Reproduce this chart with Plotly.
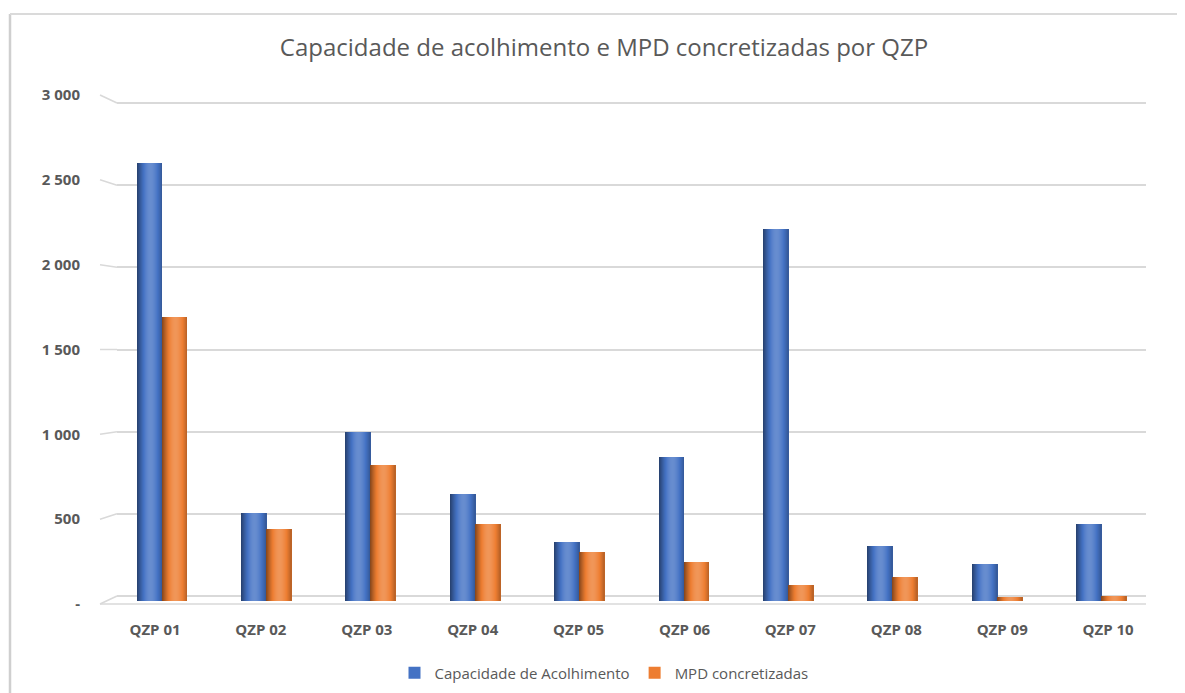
import math
import plotly.graph_objects as go

categories = ["QZP 01", "QZP 02", "QZP 03", "QZP 04", "QZP 05",
              "QZP 06", "QZP 07", "QZP 08", "QZP 09", "QZP 10"]
capacidade = [2615, 525, 1010, 640, 350, 860, 2220, 330, 220, 460]
mpd = [1695, 430, 810, 460, 290, 235, 95, 145, 25, 30]

ytick_vals = [0, 500, 1000, 1500, 2000, 2500, 3000]
ytick_text = ["-", "500", "1 000", "1 500", "2 000", "2 500", "3 000"]

# ---- geometry (target screenshot pixels; page body has 8px margin) ----
OFF = 8
W, H = 1185 - OFF, 693 - OFF
PL, PR, PT, PB = 117, 1146, 95, 604          # plot area in target px
GRID_Y0, GRID_Y3000 = 596, 103               # back-wall gridlines
BAR_Y0, BAR_SCALE = 601, 0.1676              # front (bar) baseline & px/unit
CAT0, CAT_STEP = 155, 105.9                  # category centres

pw, ph = PR - PL, PB - PT
gscale = (GRID_Y0 - GRID_Y3000) / 3000.0


def px_x(xt):
    return (xt - PL) / pw


def px_y(yt):
    return (PB - yt) / ph


GREY = "#595959"
GRID = "#D9D9D9"
FONT = "Open Sans"


def shade(hex_color, k):
    h = hex_color.lstrip("#")
    r, g, b = int(h[0:2], 16), int(h[2:4], 16), int(h[4:6], 16)
    if k < 1:
        r, g, b = r * k, g * k, b * k
    else:
        t = k - 1
        r, g, b = r + (255 - r) * t, g + (255 - g) * t, b + (255 - b) * t
    return "rgb(%d,%d,%d)" % (round(r), round(g), round(b))


def profile(t):
    peak = 0.55
    if t <= peak:
        return 0.55 + 0.64 * math.sin((t / peak) * math.pi / 2)
    return 1.19 - 0.42 * ((t - peak) / (1 - peak)) ** 1.6


fig = go.Figure()

# anchor traces so the base y axis (gridlines) and the label axis render
fig.add_trace(go.Scatter(x=[categories[0]], y=[0], yaxis="y", mode="markers",
                         marker=dict(opacity=0), showlegend=False, hoverinfo="skip"))
fig.add_trace(go.Scatter(x=[categories[0]], y=[0], yaxis="y3", mode="markers",
                         marker=dict(opacity=0), showlegend=False, hoverinfo="skip"))

BW = 25 / CAT_STEP
n = len(categories)
blue_off = [(-18 - 1.5 * i) / CAT_STEP for i in range(n)]
orange_off = [o + BW for o in blue_off]

series = [
    ("Capacidade de Acolhimento", capacidade, "#4472C4", blue_off),
    ("MPD concretizadas", mpd, "#ED7D31", orange_off),
]
NSTRIP = 25

for name, vals, col, offs in series:
    fig.add_trace(go.Bar(
        x=categories, y=vals, name=name, marker_color=col, yaxis="y2",
        marker_line_width=0, width=BW, offset=offs, showlegend=True,
    ))
    for s in range(NSTRIP):
        t = (s + 0.5) / NSTRIP
        k = profile(t)
        fig.add_trace(go.Bar(
            x=categories, y=vals, marker_color=shade(col, k), yaxis="y2",
            marker_line_width=0,
            width=BW / NSTRIP + (0.006 if s < NSTRIP - 1 else 0),
            offset=[o + s * BW / NSTRIP for o in offs],
            showlegend=False, hoverinfo="skip",
        ))

shapes = []
# slanted depth ticks from left wall to back-wall gridlines
for v in ytick_vals:
    y_back = GRID_Y0 - gscale * v
    y_left = PB - (PB - PT) * v / 3000.0
    shapes.append(dict(type="line", xref="paper", yref="paper",
                       x0=px_x(100), y0=px_y(y_left), x1=px_x(PL), y1=px_y(y_back),
                       line=dict(color=GRID, width=1.5), layer="below"))
# floor front edge
shapes.append(dict(type="line", xref="paper", yref="paper",
                   x0=px_x(100), x1=px_x(PR), y0=px_y(604), y1=px_y(604),
                   line=dict(color=GRID, width=1.5), layer="below"))
# chart-area border (left & top)
shapes.append(dict(type="line", xref="paper", yref="paper",
                   x0=px_x(10), x1=px_x(10), y0=px_y(14), y1=px_y(700),
                   line=dict(color="#CFCFCF", width=2.5)))
shapes.append(dict(type="line", xref="paper", yref="paper",
                   x0=px_x(10), x1=px_x(1195), y0=px_y(14), y1=px_y(14),
                   line=dict(color="#DADADA", width=2)))

grid_range = [-(PB - GRID_Y0) / gscale, (GRID_Y0 - PT) / gscale]
bar_range = [-(PB - BAR_Y0) / BAR_SCALE, (BAR_Y0 - PT) / BAR_SCALE]

fig.update_layout(
    width=W, height=H,
    margin=dict(l=PL - OFF, r=W - (PR - OFF), t=PT - OFF, b=H - (PB - OFF),
                autoexpand=False),
    paper_bgcolor="white", plot_bgcolor="white",
    barmode="overlay", bargap=0,
    title=dict(text="Capacidade de acolhimento e MPD concretizadas por QZP",
               x=(604 - OFF) / W, xanchor="center",
               y=1 - (48 - OFF) / H, yanchor="middle",
               font=dict(family=FONT, size=24, color=GREY)),
    font=dict(family=FONT, color=GREY),
    legend=dict(orientation="h", xref="container", yref="container",
                x=(604 - OFF) / W, xanchor="center",
                y=1 - (673 - OFF) / H, yanchor="middle",
                font=dict(family=FONT, size=15, color=GREY),
                itemwidth=30, traceorder="normal"),
    shapes=shapes,
    showlegend=True,
    xaxis=dict(type="category", range=[-(CAT0 - PL) / CAT_STEP,
                                       -(CAT0 - PL) / CAT_STEP + pw / CAT_STEP],
               showgrid=False, showline=False, zeroline=False, ticks="",
               ticklabelstandoff=15, automargin=False,
               tickfont=dict(family=FONT, size=15, color=GREY, weight="bold")),
    # back-wall gridlines
    yaxis=dict(range=grid_range, tickvals=ytick_vals, showticklabels=False,
               showgrid=True, gridcolor=GRID, gridwidth=1.5,
               zeroline=False, showline=False, ticks="", automargin=False),
    # bars (front plane)
    yaxis2=dict(range=bar_range, overlaying="y", side="left",
                showgrid=False, showticklabels=False, zeroline=False,
                showline=False, ticks="", automargin=False),
    # value labels at the left-wall ends of the depth ticks
    yaxis3=dict(range=[0, 3000], overlaying="y", side="left",
                tickvals=ytick_vals, ticktext=ytick_text,
                showgrid=False, zeroline=False, showline=False, ticks="",
                ticklabelstandoff=36, automargin=False,
                tickfont=dict(family=FONT, size=15, color=GREY, weight="bold")),
)

fig.write_html("out.html")
